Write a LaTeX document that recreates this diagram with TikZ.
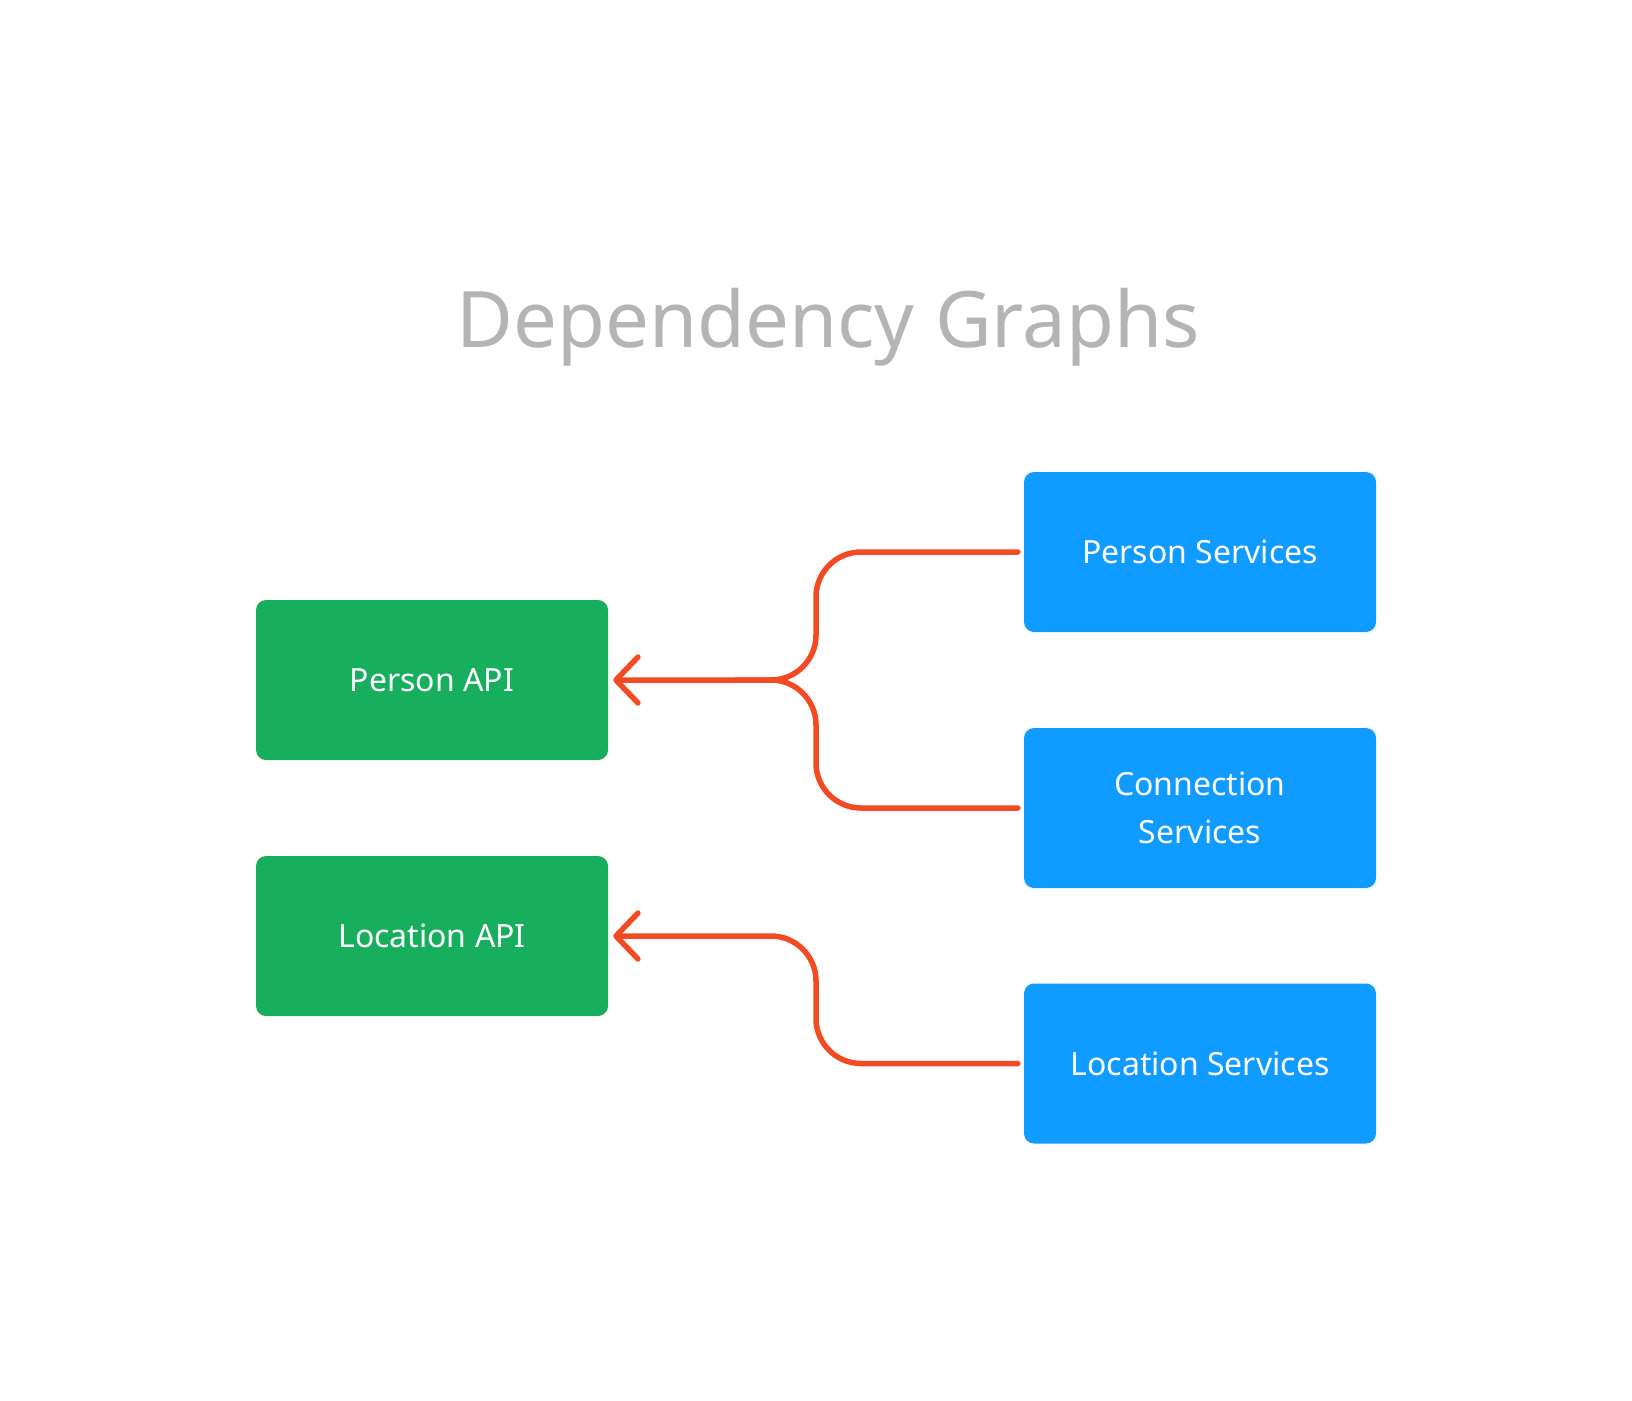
\documentclass[tikz,border=0pt]{standalone}
\usepackage{fontspec}
\setmainfont{Noto Sans}
\usetikzlibrary{arrows.meta}
\definecolor{apigreen}{RGB}{23,175,94}
\definecolor{svcblue}{RGB}{15,155,255}
\definecolor{linkred}{RGB}{242,75,36}
\definecolor{titlegray}{RGB}{180,180,180}
\tikzset{
  apibox/.style={rectangle, rounded corners=10pt, fill=apigreen, text=white,
    minimum width=352pt, minimum height=160pt, inner sep=0pt,
    font=\fontsize{32}{48}\selectfont, align=center},
  svcbox/.style={apibox, fill=svcblue},
  conn/.style={draw=linkred, line width=5.5pt, line cap=round, line join=round, rounded corners=45pt},
  tip/.style={-{Straight Barb[length=22pt,width=46pt,round]}}
}
\begin{document}
\begin{tikzpicture}[x=1pt,y=-1pt]
\useasboundingbox (0,0) rectangle (1632,1400);
\node[anchor=base, text=titlegray, font=\fontsize{78}{94}\selectfont] (title) at (828,347) {Dependency Graphs};
\node[apibox] (pa) at (432,680) {Person API};
\node[apibox] (la) at (432,936) {Location API};
\node[svcbox] (ps) at (1200,552) {Person Services};
\node[svcbox] (cs) at (1200,808) {Connection\\Services};
\node[svcbox] (ls) at (1200,1063.5) {Location Services};
\coordinate (j1) at (816,680);
\coordinate (j2) at (816,936);
\draw[conn] ([xshift=-6pt]cs.west) -| (j1) -- ++(-80,0);
\draw[conn, tip] ([xshift=-6pt]ps.west) -| (j1) -- ([xshift=5pt]pa.east);
\draw[conn, tip] ([xshift=-6pt]ls.west) -| (j2) -- ([xshift=5pt]la.east);
\end{tikzpicture}
\end{document}
